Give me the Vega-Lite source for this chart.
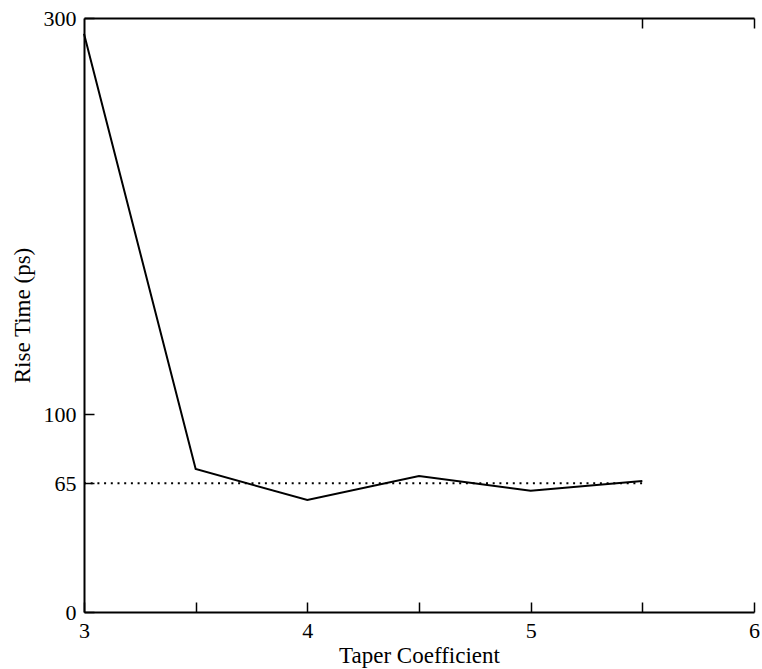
{
  "$schema": "https://vega.github.io/schema/vega-lite/v6.json",
  "width": 670,
  "height": 594,
  "autosize": "none",
  "padding": {"left": 84, "top": 18, "right": 8, "bottom": 57},
  "background": "white",
  "config": {
    "view": {"stroke": null},
    "font": "Liberation Serif",
    "axis": {
      "grid": false,
      "domainColor": "black",
      "domainWidth": 2,
      "tickColor": "black",
      "tickWidth": 1.5,
      "labelFont": "Liberation Serif",
      "labelFontSize": 22,
      "labelColor": "black",
      "titleFont": "Liberation Serif",
      "titleFontSize": 23,
      "titleFontWeight": "normal",
      "titleColor": "black"
    }
  },
  "datasets": {
    "rise": [
      {"taper": 3.0, "rise": 292},
      {"taper": 3.5, "rise": 72.2},
      {"taper": 4.0, "rise": 56.6},
      {"taper": 4.5, "rise": 68.7},
      {"taper": 5.0, "rise": 61.3},
      {"taper": 5.5, "rise": 66.2}
    ],
    "ref": [
      {"from": 3.0, "to": 5.5, "level": 65}
    ]
  },
  "layer": [
    {
      "data": {"name": "rise"},
      "mark": {"type": "line", "color": "black", "strokeWidth": 2, "clip": false},
      "encoding": {
        "x": {
          "field": "taper",
          "type": "quantitative",
          "scale": {"domain": [3, 6], "nice": false, "zero": false},
          "axis": {
            "orient": "bottom",
            "title": "Taper Coefficient",
            "values": [3, 3.5, 4, 4.5, 5, 5.5, 6],
            "labelExpr": "datum.value % 1 == 0 ? format(datum.value, 'd') : ''",
            "tickSize": -10,
            "labelPadding": 18,
            "labelBaseline": "top",
            "labelFlush": false,
            "titleX": 335,
            "titleY": 50,
            "titleBaseline": "alphabetic",
            "titleAnchor": null
          }
        },
        "y": {
          "field": "rise",
          "type": "quantitative",
          "scale": {"domain": [0, 300], "nice": false},
          "axis": {
            "orient": "left",
            "title": "Rise Time (ps)",
            "values": [0, 65, 100, 300],
            "tickSize": -10,
            "labelPadding": 18,
            "labelBaseline": "middle",
            "labelFlush": false,
            "titleX": -62,
            "titleY": 297,
            "titleBaseline": "middle",
            "titleAngle": -90,
            "titleAnchor": null
          }
        }
      }
    },
    {
      "data": {"name": "ref"},
      "mark": {"type": "rule", "color": "black", "strokeWidth": 2, "strokeDash": [2, 4.7]},
      "encoding": {
        "x": {"field": "from", "type": "quantitative", "scale": {"domain": [3, 6], "nice": false, "zero": false},
          "axis": {
            "orient": "top",
            "title": null,
            "labels": false,
            "values": [5.5, 6],
            "tickSize": -10
          }
        },
        "x2": {"field": "to"},
        "y": {"field": "level", "type": "quantitative"}
      }
    }
  ],
  "resolve": {"axis": {"x": "independent"}}
}
